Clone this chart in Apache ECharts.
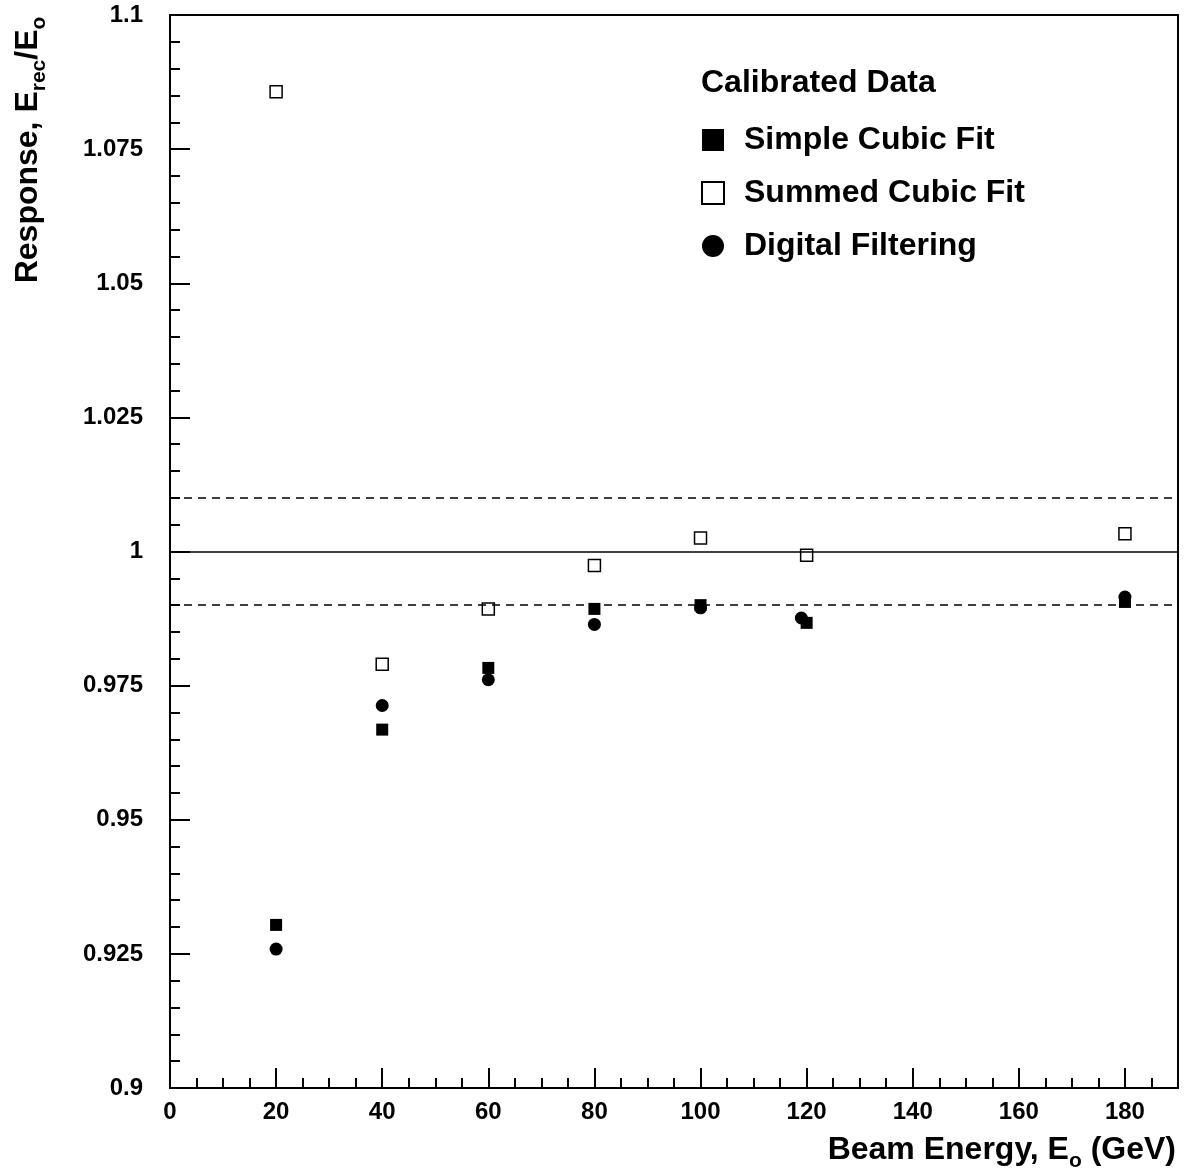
<!DOCTYPE html>
<html>
<head>
<meta charset="utf-8">
<script src="https://cdn.jsdelivr.net/npm/echarts@6/dist/echarts.min.js"></script>
<style>
html, body { margin: 0; padding: 0; background: #fff; }
#main { width: 1184px; height: 1175px; }
</style>
</head>
<body>
<div id="main"></div>
<script>
// beam energies (GeV)
var energy = [20, 40, 60, 80, 100, 120, 180];
var energyDigital = [20, 40, 60, 80, 100, 119, 180];
// response E_rec/E_o
var simpleCubic = [0.9304, 0.9668, 0.9783, 0.9893, 0.9900, 0.9867, 0.9906];
var summedCubic = [1.0857, 0.9790, 0.9893, 0.9974, 1.0025, 0.9993, 1.0033];
var digitalFilter = [0.9259, 0.9713, 0.9761, 0.9864, 0.9895, 0.9876, 0.9915];
var refLines = [1.01, 1.0, 0.99];
var seriesNames = ['Simple Cubic Fit', 'Summed Cubic Fit', 'Digital Filtering'];

var FONT = 'Liberation Sans';

function pairs(xs, ys) {
    return xs.map(function (x, i) { return [x, ys[i]]; });
}

var myChart = echarts.init(document.getElementById('main'));

var option = {
    animation: false,
    backgroundColor: '#fff',
    title: {
        text: 'Calibrated Data',
        left: 701,
        top: 67,
        padding: 0,
        textStyle: { fontFamily: FONT, fontWeight: 'bold', fontSize: 32, color: '#000' }
    },
    legend: {
        orient: 'vertical',
        left: 701,
        top: 124,
        padding: 0,
        itemWidth: 22,
        itemHeight: 22,
        itemGap: 21,
        data: seriesNames,
        textStyle: { fontFamily: FONT, fontWeight: 'bold', fontSize: 32, color: '#000', padding: [0, 0, 0, 15] }
    },
    grid: {
        left: 170,
        right: 6,
        top: 15,
        bottom: 87,
        show: true,
        borderColor: '#000',
        borderWidth: 2
    },
    xAxis: [{
        type: 'value',
        min: 0,
        max: 190,
        interval: 20,
        axisLine: { lineStyle: { color: '#000', width: 2 } },
        axisTick: { inside: true, length: 20, lineStyle: { color: '#000', width: 2 } },
        axisLabel: {
            margin: 12,
            fontFamily: FONT, fontWeight: 'bold', fontSize: 24, color: '#000',
            formatter: function (v) { return v > 180 ? '' : String(v); }
        },
        splitLine: { show: false }
    }, {
        // minor ticks every 5 GeV
        type: 'value',
        position: 'bottom',
        min: 0,
        max: 190,
        interval: 5,
        axisLine: { show: false },
        axisTick: { inside: true, length: 10, lineStyle: { color: '#000', width: 2 } },
        axisLabel: { show: false },
        splitLine: { show: false }
    }],
    yAxis: {
        type: 'value',
        min: 0.9,
        max: 1.1,
        interval: 0.025,
        axisLine: { show: true, lineStyle: { color: '#000', width: 2 } },
        axisTick: { inside: true, length: 20, lineStyle: { color: '#000', width: 2 } },
        minorTick: { show: true, splitNumber: 5, length: 10, lineStyle: { color: '#000', width: 2 } },
        axisLabel: { margin: 27, fontFamily: FONT, fontWeight: 'bold', fontSize: 24, color: '#000' },
        splitLine: { show: false }
    },
    graphic: [{
        type: 'text',
        x: 31,
        y: 150,
        rotation: Math.PI / 2,
        style: {
            text: '{m|Response, E}{s|rec}{m|/E}{s|o}',
            align: 'center',
            verticalAlign: 'middle',
            fill: '#000',
            rich: {
                m: { fontFamily: FONT, fontWeight: 'bold', fontSize: 32, color: '#000', verticalAlign: 'top' },
                s: { fontFamily: FONT, fontWeight: 'bold', fontSize: 21, color: '#000', verticalAlign: 'top', padding: [17, 0, 0, 0] }
            }
        }
    }, {
        type: 'text',
        x: 1176,
        y: 1134,
        style: {
            text: '{m|Beam Energy, E}{s|o}{m| (GeV)}',
            align: 'right',
            verticalAlign: 'top',
            fill: '#000',
            rich: {
                m: { fontFamily: FONT, fontWeight: 'bold', fontSize: 32, color: '#000', verticalAlign: 'top' },
                s: { fontFamily: FONT, fontWeight: 'bold', fontSize: 21, color: '#000', verticalAlign: 'top', padding: [17, 0, 0, 0] }
            }
        }
    }],
    series: [{
        name: seriesNames[0],
        type: 'scatter',
        symbol: 'rect',
        symbolSize: 12,
        itemStyle: { color: '#000', opacity: 1 },
        data: pairs(energy, simpleCubic),
        markLine: {
            silent: true,
            symbol: ['none', 'none'],
            label: { show: false },
            data: refLines.map(function (v) {
                return {
                    yAxis: v,
                    lineStyle: { color: '#000', width: 1.5, type: v === 1 ? 'solid' : [8, 6] }
                };
            })
        }
    }, {
        name: seriesNames[1],
        type: 'scatter',
        symbol: 'rect',
        symbolSize: 12,
        itemStyle: { color: '#fff', borderColor: '#000', borderWidth: 1.5, opacity: 1 },
        data: pairs(energy, summedCubic)
    }, {
        name: seriesNames[2],
        type: 'scatter',
        symbol: 'circle',
        symbolSize: 13,
        itemStyle: { color: '#000', opacity: 1 },
        data: pairs(energyDigital, digitalFilter)
    }]
};

myChart.setOption(option);
</script>
</body>
</html>
